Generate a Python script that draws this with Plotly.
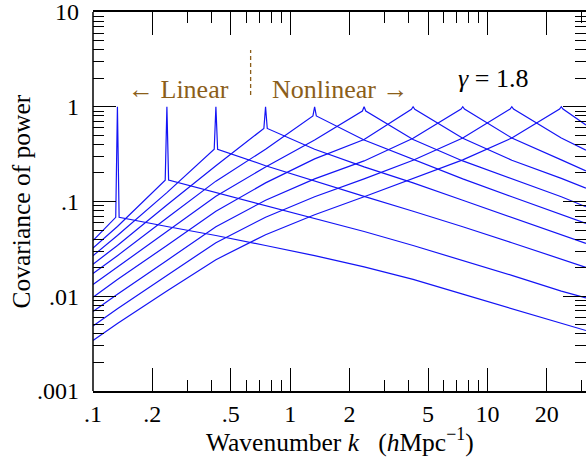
import math
import plotly.graph_objects as go

# Peak wavenumbers of the ten curves (h/Mpc)
k_peak = [0.133, 0.237, 0.42, 0.75, 1.33, 2.37, 4.2, 7.5, 13.3, 23.7]
k_left = 0.1
k_right = 31.6

# Covariance values of each curve at [k_left, k_peak[0..9], k_right];
# the entry at its own peak is the value at the foot of the spike.
cov0 = [0.0386, 0.068, 0.0545, 0.0438, 0.0343, 0.0268, 0.0204, 0.01506, 0.01052, 0.00739, 0.00516, 0.00435]
cov1 = [0.0322, 0.0545, 0.168, 0.1241, 0.0917, 0.0669, 0.0482, 0.0343, 0.02387, 0.0166, 0.01134, 0.00962]
cov2 = [0.0268, 0.0438, 0.1241, 0.356, 0.2387, 0.164, 0.1134, 0.0788, 0.0542, 0.0367, 0.02434, 0.0202]
cov3 = [0.0218, 0.0343, 0.0917, 0.2387, 0.59, 0.356, 0.2318, 0.1573, 0.103, 0.0682, 0.0446, 0.0361]
cov4 = [0.01734, 0.0268, 0.0669, 0.164, 0.356, 0.80, 0.446, 0.2815, 0.1734, 0.1121, 0.0724, 0.0587]
cov5 = [0.01328, 0.0204, 0.0482, 0.1134, 0.2318, 0.446, 0.90, 0.4516, 0.268, 0.1734, 0.1121, 0.0879]
cov6 = [0.00976, 0.01506, 0.0343, 0.0788, 0.1573, 0.2815, 0.4516, 0.94, 0.465, 0.2727, 0.1755, 0.1384]
cov7 = [0.0069, 0.01052, 0.02387, 0.0542, 0.103, 0.1734, 0.268, 0.465, 0.945, 0.4683, 0.2747, 0.2104]
cov8 = [0.00486, 0.00739, 0.0166, 0.0367, 0.0682, 0.1121, 0.1734, 0.2727, 0.4683, 0.945, 0.4683, 0.3477]
cov9 = [0.00342, 0.00516, 0.01134, 0.02434, 0.0446, 0.0724, 0.1121, 0.1755, 0.2747, 0.4683, 0.945, 0.642]
curves = [cov0, cov1, cov2, cov3, cov4, cov5, cov6, cov7, cov8, cov9]
peak_value = 1.0
spike_factor = 1.02

x_tickvals = [0.1, 0.2, 0.5, 1, 2, 5, 10, 20]
x_ticktext = [".1", ".2", ".5", "1", "2", "5", "10", "20"]
x_minor = [0.3, 0.4, 0.6, 0.7, 0.8, 0.9, 3, 4, 6, 7, 8, 9, 30]
y_tickvals = [0.001, 0.01, 0.1, 1, 10]
y_ticktext = [".001", ".01", ".1", "1", "10"]
y_minor = [m * d for d in [0.001, 0.01, 0.1, 1] for m in range(2, 10)]
k_divide = 0.63
k_linear_label = 0.271
k_nonlinear_label = 1.79
k_gamma_label = 10.7

BLUE = "#1414F5"
BROWN = "#8B5E1A"
FONT = "Liberation Serif, DejaVu Serif, serif"

fig = go.Figure()
grid_k = [k_left] + k_peak + [k_right]
for i, vals in enumerate(curves):
    xs, ys = [], []
    for j, (k, v) in enumerate(zip(grid_k, vals)):
        if j == i + 1:
            xs += [k / spike_factor, k, k * spike_factor]
            ys += [v, peak_value, v]
        else:
            xs.append(k)
            ys.append(v)
    fig.add_trace(go.Scatter(x=xs, y=ys, mode="lines",
                             line=dict(color=BLUE, width=1.2),
                             showlegend=False, hoverinfo="skip"))

# dashed divider between linear and nonlinear
fig.add_shape(type="line", xref="x", yref="paper", x0=k_divide, x1=k_divide,
              y0=0.781, y1=0.90, line=dict(color=BROWN, width=1.3, dash="4px,3px"))
# left axis line (right side has ticks only)
fig.add_shape(type="line", xref="paper", yref="paper", x0=0, x1=0, y0=0, y1=1,
              line=dict(color="black", width=1.5))

fig.add_annotation(x=math.log10(k_linear_label), y=0.839, xref="x", yref="paper",
                   text="\u2190 Linear", showarrow=False,
                   font=dict(family=FONT, size=26, color=BROWN))
fig.add_annotation(x=math.log10(k_nonlinear_label), y=0.839, xref="x", yref="paper",
                   text="Nonlinear \u2192", showarrow=False,
                   font=dict(family=FONT, size=26, color=BROWN))
fig.add_annotation(x=math.log10(k_gamma_label), y=0.868, xref="x", yref="paper",
                   text="<i>\u03b3</i> = 1.8", showarrow=False,
                   font=dict(family=FONT, size=26, color="black"))

fig.add_annotation(x=0.5, y=0, xref="paper", yref="paper", yshift=-49,
                   text="Wavenumber <i>k</i>\u2002 (<i>h</i>Mpc<sup>\u22121</sup>)",
                   showarrow=False, yanchor="middle",
                   font=dict(family=FONT, size=25.5, color="black"))
fig.add_annotation(x=0, y=0.5, xref="paper", yref="paper", xshift=-72,
                   text="Covariance of power", textangle=-90, showarrow=False,
                   xanchor="center", font=dict(family=FONT, size=25.5, color="black"))

axis_common = dict(showgrid=False, zeroline=False, ticks="inside", ticklen=23,
                   tickwidth=1, tickcolor="black", mirror="allticks",
                   tickfont=dict(family=FONT, size=24, color="black"),
                   tickmode="array", ticklabeloverflow="allow")
fig.update_xaxes(type="log", range=[-1, 1.5], tickvals=x_tickvals, ticktext=x_ticktext,
                 showline=True, linecolor="black", linewidth=1.5,
                 minor=dict(tickmode="array", tickvals=x_minor, ticks="inside",
                            ticklen=11, tickwidth=1, tickcolor="black"),
                 ticklabelstandoff=0, **axis_common)
fig.update_yaxes(type="log", range=[-3, 1], tickvals=y_tickvals, ticktext=y_ticktext,
                 showline=False,
                 minor=dict(tickmode="array", tickvals=y_minor, ticks="inside",
                            ticklen=11, tickwidth=1, tickcolor="black"),
                 ticklabelstandoff=13, **axis_common)

fig.update_layout(width=586, height=460, margin=dict(l=93, r=0, t=12, b=69),
                  plot_bgcolor="white", paper_bgcolor="white",
                  font=dict(family=FONT, color="black"))
fig.write_html("out.html", post_script="document.body.style.margin='0';",
               config={"displayModeBar": False})
